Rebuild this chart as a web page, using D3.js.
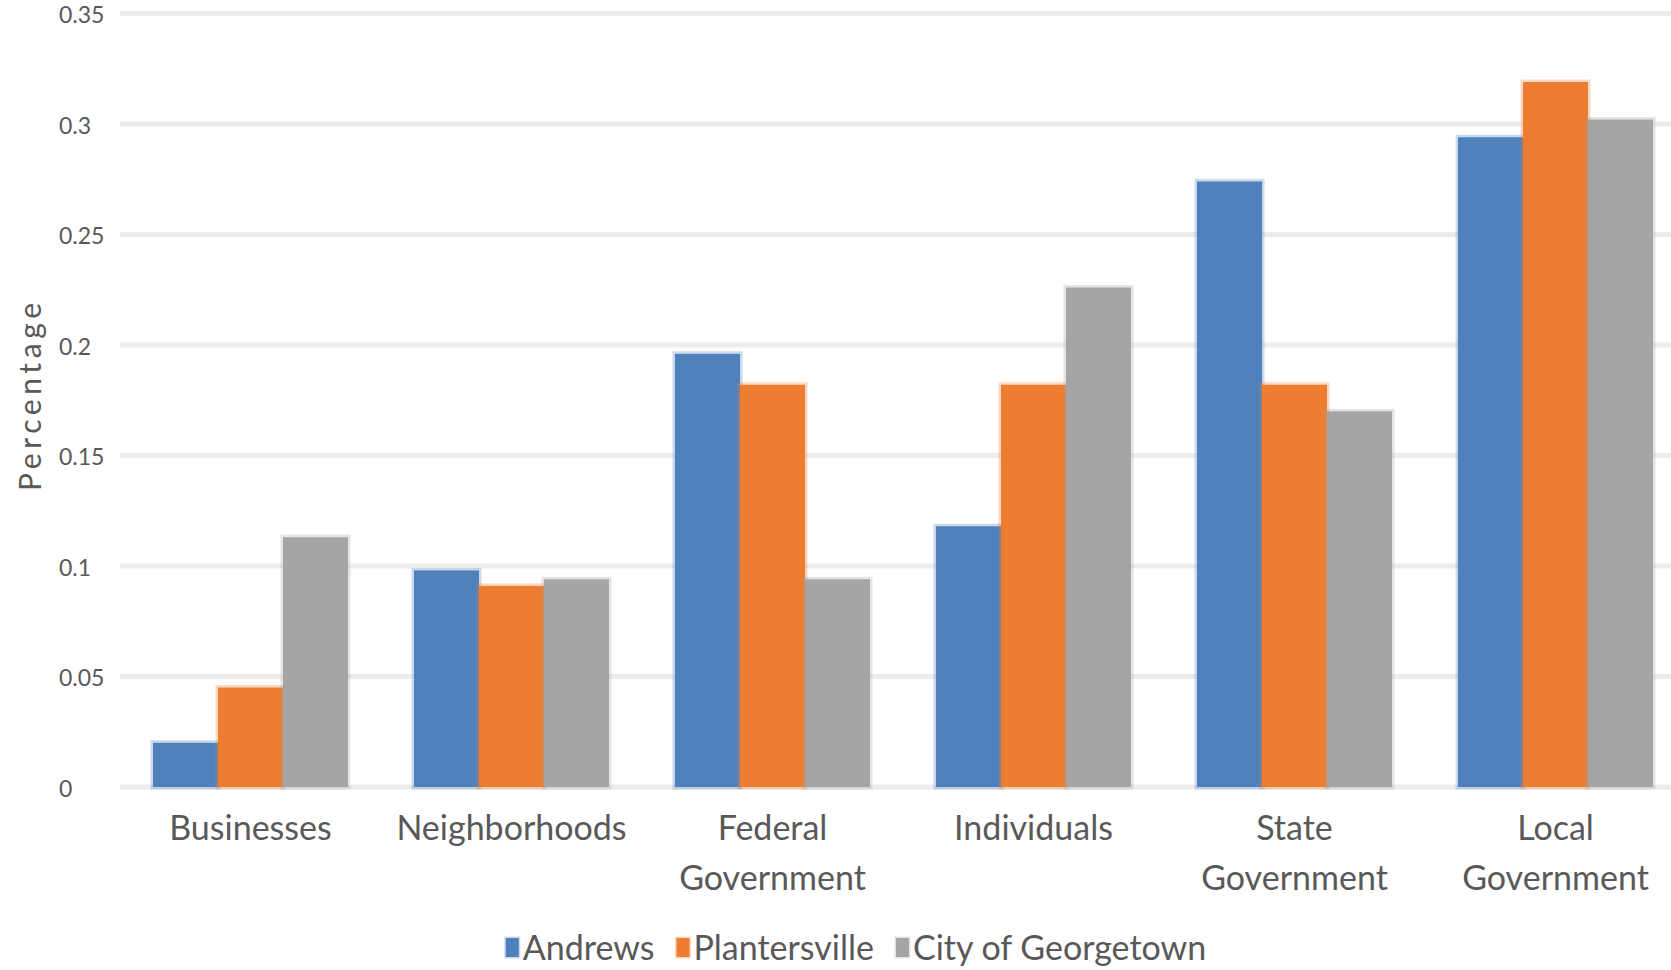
<!DOCTYPE html>
<html>
<head>
<meta charset="utf-8">
<script src="https://cdn.jsdelivr.net/npm/d3@7"></script>
<style>
  html, body { margin: 0; padding: 0; background: #ffffff; }
  svg { display: block; }
  text { font-family: Lato, "Open Sans", sans-serif; fill: #595959; }
</style>
</head>
<body>
<svg id="chart" width="1671" height="970"></svg>
<script>
// Share of responses by responsible party, per community
const categories = ["Businesses", "Neighborhoods", "Federal Government", "Individuals", "State Government", "Local Government"];
const seriesNames = ["Andrews", "Plantersville", "City of Georgetown"];
const andrews       = [0.020, 0.098, 0.196, 0.118, 0.274, 0.294];
const plantersville = [0.045, 0.091, 0.182, 0.182, 0.182, 0.319];
const georgetown    = [0.113, 0.094, 0.094, 0.226, 0.170, 0.302];
const yTicks = [0, 0.05, 0.1, 0.15, 0.2, 0.25, 0.3, 0.35];
const colors = ["#4f81bd", "#ed7d31", "#a5a5a5"];

const seriesValues = [andrews, plantersville, georgetown];
const rows = categories.map((c, i) => ({
  category: c,
  values: seriesNames.map((s, j) => ({ series: s, value: seriesValues[j][i], color: colors[j] }))
}));

const svg = d3.select("#chart");

const plot = { left: 120, right: 1686, top: 13.5, bottom: 787 };

const x = d3.scaleBand()
  .domain(categories)
  .range([plot.left, plot.right])
  .paddingInner(0.253)
  .paddingOuter(0.1265);

const xSeries = d3.scaleBand()
  .domain(seriesNames)
  .range([0, x.bandwidth()])
  .padding(0);

const y = d3.scaleLinear()
  .domain([0, 0.35])
  .range([plot.bottom, plot.top]);

const fmt = d => String(+d.toFixed(2));

// Horizontal gridlines
svg.append("g")
  .selectAll("line")
  .data(yTicks)
  .join("line")
  .attr("x1", plot.left)
  .attr("x2", plot.right)
  .attr("y1", d => y(d))
  .attr("y2", d => y(d))
  .attr("stroke", "#ededed")
  .attr("stroke-width", 5);

// Y tick labels, left aligned
svg.append("g")
  .selectAll("text")
  .data(yTicks)
  .join("text")
  .attr("x", 59)
  .attr("y", d => y(d))
  .attr("dy", "0.42em")
  .attr("font-size", 23)
  .text(fmt);

// Bars
const groups = svg.append("g")
  .selectAll("g")
  .data(rows)
  .join("g")
  .attr("transform", d => `translate(${x(d.category)},0)`);

groups.selectAll("rect")
  .data(d => d.values)
  .join("rect")
  .attr("x", d => xSeries(d.series))
  .attr("width", xSeries.bandwidth())
  .attr("y", d => y(d.value))
  .attr("height", d => y(0) - y(d.value))
  .attr("fill", d => d.color)
  .attr("stroke", d => d.color)
  .attr("stroke-opacity", 0.3)
  .attr("stroke-width", 5);

// Category labels, wrapped to the band width
const catLabels = svg.append("g")
  .selectAll("text")
  .data(categories)
  .join("text")
  .attr("text-anchor", "middle")
  .attr("font-size", 34)
  .attr("x", d => x(d) + x.bandwidth() / 2)
  .attr("y", 840);

catLabels.each(function (d) {
  const t = d3.select(this);
  const words = d.split(" ");
  const maxW = x.step() - 6;
  let line = [];
  let tspan = t.append("tspan").attr("x", x(d) + x.bandwidth() / 2).attr("dy", 0);
  words.forEach(w => {
    line.push(w);
    tspan.text(line.join(" "));
    if (tspan.node().getComputedTextLength() > maxW && line.length > 1) {
      line.pop();
      tspan.text(line.join(" "));
      line = [w];
      tspan = t.append("tspan").attr("x", x(d) + x.bandwidth() / 2).attr("dy", 50).text(w);
    }
  });
});

// Y axis title
svg.append("text")
  .attr("transform", "translate(41,397) rotate(-90)")
  .attr("text-anchor", "middle")
  .attr("font-size", 30)
  .attr("textLength", 188)
  .attr("lengthAdjust", "spacing")
  .text("Percentage");

// Legend
const legend = svg.append("g");
const items = legend.selectAll("g")
  .data(seriesNames)
  .join("g");

items.append("rect")
  .attr("width", 13)
  .attr("height", 19)
  .attr("y", -10)
  .attr("fill", (d, i) => colors[i])
  .attr("stroke", (d, i) => colors[i])
  .attr("stroke-opacity", 0.3)
  .attr("stroke-width", 3);

items.append("text")
  .attr("x", 17)
  .attr("dy", "0.35em")
  .attr("font-size", 34)
  .text(d => d);

const widths = [];
items.each(function () {
  const w = 17 + d3.select(this).select("text").node().getComputedTextLength();
  widths.push(w);
});
const gap = 22;
const total = d3.sum(widths) + gap * (widths.length - 1);
const legendCenter = 856;
let cursor = legendCenter - total / 2;
items.attr("transform", (d, i) => {
  const tx = cursor;
  cursor += widths[i] + gap;
  return `translate(${tx},948)`;
});
</script>
</body>
</html>
